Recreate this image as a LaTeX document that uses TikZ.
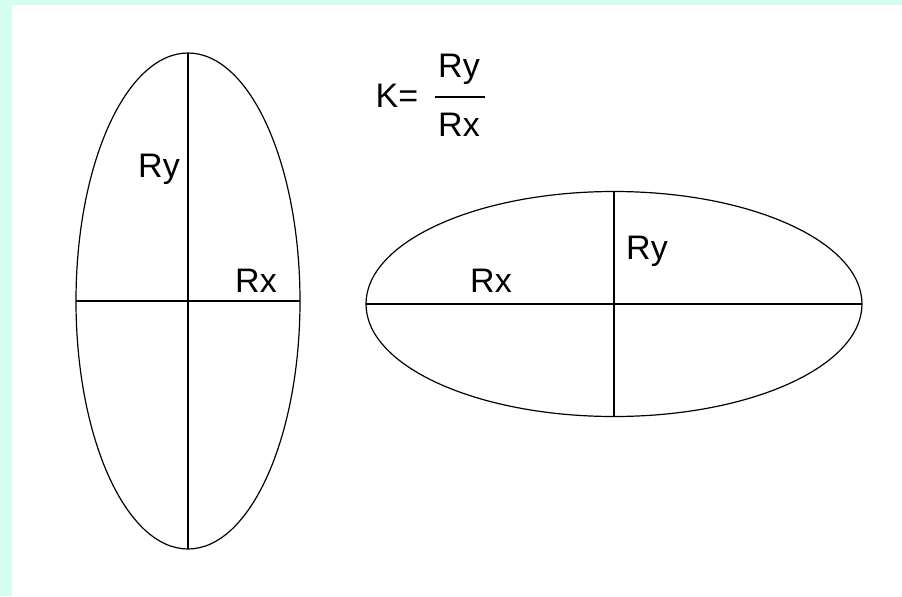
\documentclass[tikz,border=0pt]{standalone}
\usepackage{fontspec}
\setmainfont{Liberation Sans}
\usepackage{xcolor}
\usepackage{tikz}
\usetikzlibrary{shapes.geometric}
\definecolor{framecyan}{HTML}{D4FFF0}

\begin{document}
\begin{tikzpicture}[
    x=0.5pt, y=-0.5pt,
    oval/.style={ellipse, draw=black, line width=0.6pt, inner sep=0pt, outer sep=0pt},
    axis/.style={line width=0.75pt, black},
    lbl/.style={anchor=base, inner sep=0pt, font=\fontsize{17}{20}\selectfont},
]
    % frame
    \useasboundingbox (0,0) rectangle (902,596);
    \fill[white] (0,0) rectangle (902,596);
    \fill[framecyan] (0,0) rectangle (902,5);
    \fill[framecyan] (0,0) rectangle (12,596);

    % tall ellipse
    \node[oval, minimum width=112pt, minimum height=248pt] (tall) at (188,301) {};
    \draw[axis] (tall.north) -- (tall.south);
    \draw[axis] (tall.west) -- (tall.east);
    \node[lbl] (tallry) at (159,177) {Ry};
    \node[lbl] (tallrx) at (256,292) {Rx};

    % wide ellipse
    \node[oval, minimum width=248pt, minimum height=112.5pt] (wide) at (614,304) {};
    \draw[axis] (wide.north) -- (wide.south);
    \draw[axis] (wide.west) -- (wide.east);
    \node[lbl] (widerx) at (491,292) {Rx};
    \node[lbl] (widery) at (647,259) {Ry};

    % ratio
    \node[lbl] (keq) at (397,107) {K=};
    \node[lbl] (num) at (459,77) {Ry};
    \node[lbl] (den) at (459,136) {Rx};
    \coordinate (barL) at (435,97);
    \coordinate (barR) at (485,97);
    \draw[axis] (barL) -- (barR);

\end{tikzpicture}
\end{document}
